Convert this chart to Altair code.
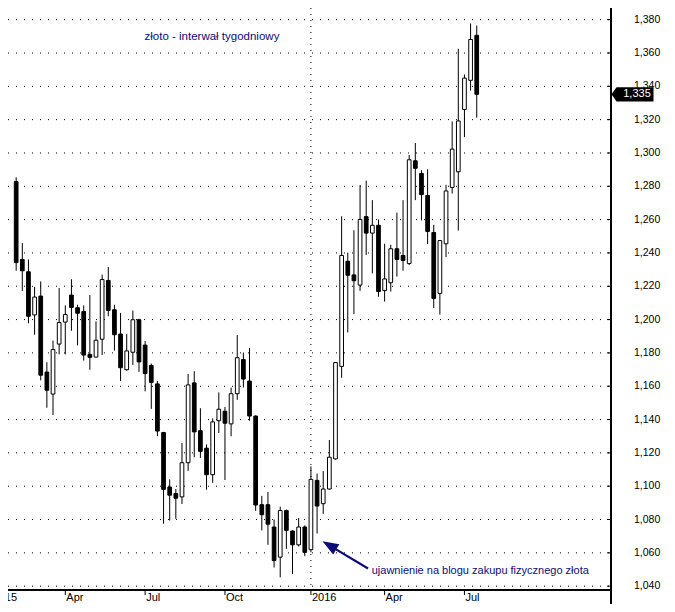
import altair as alt
import pandas as pd

# ---- weekly OHLC (gold, USD/oz) ----
opens = [1282.8, 1236.1, 1228.7, 1202.8, 1214.1, 1168.5, 1155.3, 1185.3, 1198.5, 1214.7,
         1207.1, 1204.8, 1179.1, 1177.5, 1188.2, 1223.5, 1205.9, 1191.3, 1169.9, 1180.4,
         1199.9, 1184.7, 1172.5, 1161.4, 1132.2, 1099.5, 1095.6, 1093.6, 1114.1, 1162.0,
         1133.3, 1122.8, 1106.9, 1139.3, 1145.0, 1137.4, 1155.5, 1176.0, 1163.1, 1142.1,
         1088.9, 1088.9, 1075.5, 1057.4, 1085.4, 1073.1, 1064.8, 1075.5, 1061.9, 1103.5,
         1089.5, 1098.3, 1116.4, 1171.9, 1235.0, 1226.8, 1220.7, 1261.8, 1251.9, 1256.6,
         1217.4, 1222.1, 1242.5, 1238.5, 1233.6, 1295.3, 1287.7, 1274.5, 1252.3, 1215.7,
         1245.5, 1279.3, 1288.7, 1326.1, 1343.6, 1370.6]
highs = [1285.4, 1245.9, 1236.1, 1219.6, 1222.9, 1174.4, 1187.4, 1219.0, 1208.5, 1224.2,
         1208.9, 1208.5, 1214.7, 1198.9, 1227.0, 1231.6, 1208.9, 1204.0, 1191.3, 1205.4,
         1200.5, 1187.1, 1173.6, 1163.1, 1132.6, 1104.1, 1098.3, 1125.9, 1167.4, 1169.0,
         1146.8, 1125.1, 1140.7, 1156.3, 1147.5, 1159.2, 1190.7, 1180.2, 1183.0, 1142.5,
         1094.2, 1096.5, 1080.0, 1087.7, 1086.0, 1073.5, 1080.9, 1076.5, 1111.9, 1107.6,
         1109.0, 1127.7, 1174.5, 1262.0, 1240.2, 1253.6, 1280.7, 1283.4, 1271.7, 1260.1,
         1245.5, 1244.9, 1264.2, 1271.7, 1298.8, 1306.0, 1289.7, 1290.2, 1256.9, 1247.4,
         1280.9, 1318.9, 1362.5, 1347.1, 1377.7, 1376.5]
lows = [1229.3, 1217.2, 1197.8, 1190.9, 1163.5, 1147.1, 1142.7, 1179.1, 1179.1, 1193.3,
        1184.5, 1175.4, 1169.9, 1177.3, 1178.7, 1202.0, 1181.4, 1163.1, 1169.3, 1172.8,
        1168.6, 1156.9, 1146.4, 1130.0, 1077.5, 1079.4, 1080.4, 1089.3, 1109.2, 1117.4,
        1117.0, 1097.9, 1102.0, 1131.9, 1103.7, 1130.0, 1151.8, 1159.2, 1139.3, 1085.2,
        1073.5, 1064.8, 1051.2, 1045.3, 1062.4, 1047.3, 1063.8, 1058.0, 1060.3, 1071.6,
        1083.3, 1098.0, 1116.0, 1165.1, 1192.3, 1203.2, 1217.2, 1238.8, 1227.7, 1213.7,
        1210.8, 1216.8, 1225.8, 1229.3, 1232.8, 1271.7, 1259.5, 1245.3, 1206.9, 1203.0,
        1237.5, 1275.6, 1253.4, 1309.5, 1337.4, 1321.2]
closes = [1234.2, 1229.3, 1202.0, 1213.5, 1166.6, 1157.6, 1182.0, 1198.2, 1203.0, 1207.3,
          1203.8, 1178.7, 1177.3, 1187.6, 1224.0, 1205.5, 1190.9, 1171.1, 1181.2, 1199.9,
          1174.6, 1167.6, 1162.3, 1133.1, 1098.1, 1094.6, 1092.8, 1114.1, 1160.8, 1132.6,
          1120.9, 1106.9, 1138.6, 1146.2, 1137.8, 1155.5, 1177.1, 1164.3, 1142.1, 1088.7,
          1082.9, 1077.2, 1055.4, 1085.4, 1073.5, 1064.8, 1075.5, 1060.3, 1104.1, 1088.1,
          1098.3, 1117.4, 1174.2, 1238.5, 1226.6, 1223.3, 1260.1, 1251.9, 1256.6, 1216.8,
          1224.4, 1242.5, 1236.1, 1235.5, 1295.9, 1290.8, 1275.0, 1252.9, 1212.7, 1247.4,
          1277.2, 1302.3, 1319.2, 1344.9, 1368.1, 1335.2]
bar_index = list(range(len(opens)))

# x-axis: bar index of the first week of each labelled period ("2015" lies off the left edge)
tick_idx = [-4, 8, 21, 34, 48, 60, 73]
tick_lab = ["2015", "Apr", "Jul", "Oct", "2016", "Apr", "Jul"]
year_line_idx = [48]
y_ticks = list(range(1040, 1381, 20))
y_tick_lab = [f"{v:,d}" for v in y_ticks]

title_text = "złoto - interwał tygodniowy"
note_text = "ujawnienie na blogu zakupu fizycznego złota"
# annotation anchors in data space (bar index, price)
title_anchor = (20.9, 1369.5)
note_anchor = (57.9, 1049.4)
arrow_tail = (57.3, 1050.6)
arrow_head = (51.0, 1064.5)

# ---- layout ----
W, H = 603, 582
FONT = "Liberation Sans"
NAVY = "#0c0c78"
BLACK = "#000000"

df = pd.DataFrame({"i": bar_index, "o": opens, "h": highs, "l": lows, "c": closes})
df["lo"] = df[["o", "c"]].min(axis=1)
df["hi"] = df[["o", "c"]].max(axis=1)
df["col"] = ["white" if c >= o else "black" for o, c in zip(opens, closes)]

xs = alt.Scale(domain=[-0.516, 96.05], nice=False, zero=False)
ys = alt.Scale(domain=[1037.7, 1387.0], nice=False, zero=False)


def X(field):
    return alt.X(field, scale=xs, axis=None)


def Y(field):
    return alt.Y(field, scale=ys, axis=None)


ydf = pd.DataFrame({"v": y_ticks, "t": y_tick_lab})
xdf = pd.DataFrame({"i": tick_idx, "t": tick_lab})

# --- hand-drawn axes ---
grid = alt.Chart(ydf).mark_rule(color=BLACK, strokeWidth=1, strokeDash=[1, 7]).encode(
    y=Y("v:Q"), x=alt.value(0), x2=alt.value(W))
inner_ticks = alt.Chart(ydf).mark_rule(color=BLACK, strokeWidth=1).encode(
    y=Y("v:Q"), x=alt.value(W - 4), x2=alt.value(W + 1))
y_labels = alt.Chart(ydf).mark_text(
    align="left", baseline="middle", font=FONT, fontSize=10.5, color=BLACK).encode(
    y=Y("v:Q"), x=alt.value(W + 23), text="t:N")
right_line = alt.Chart(ydf).mark_rule(color=BLACK, strokeWidth=1).encode(
    x=alt.value(W), y=alt.value(0), y2=alt.value(H + 14))
bottom_line = alt.Chart(ydf).mark_rule(color=BLACK, strokeWidth=1).encode(
    y=alt.value(H), x=alt.value(0), x2=alt.value(W))
x_ticks = alt.Chart(xdf).mark_rule(color=BLACK, strokeWidth=1).encode(
    x=X("i:Q"), y=alt.value(H), y2=alt.value(H + 5))
x_labels = alt.Chart(xdf).mark_text(
    align="left", baseline="top", dx=1, font=FONT, fontSize=11, color=BLACK).encode(
    x=X("i:Q"), y=alt.value(H + 2), text="t:N")

year_line = alt.Chart(pd.DataFrame({"i": year_line_idx})).mark_rule(
    color=BLACK, strokeWidth=1, strokeDash=[1, 5]).encode(x=X("i:Q"))

# --- candles ---
wicks = alt.Chart(df).mark_rule(color=BLACK, strokeWidth=1).encode(
    x=X("i:Q"), y=Y("l:Q"), y2="h:Q")
bodies = alt.Chart(df).mark_bar(size=3.7, stroke=BLACK, strokeWidth=1).encode(
    x=X("i:Q"), y=Y("lo:Q"), y2="hi:Q", fill=alt.Fill("col:N", scale=None))

# --- annotations ---
title = alt.Chart(pd.DataFrame({"i": [title_anchor[0]], "v": [title_anchor[1]], "t": [title_text]})).mark_text(
    align="left", baseline="middle", font=FONT, fontSize=11.5, color=NAVY).encode(
    x=X("i:Q"), y=Y("v:Q"), text="t:N")
arrow_line = alt.Chart(pd.DataFrame({"i": [arrow_tail[0], arrow_head[0]],
                                     "v": [arrow_tail[1], arrow_head[1]]})).mark_line(
    color=NAVY, strokeWidth=2.2).encode(x=X("i:Q"), y=Y("v:Q"))
arrow_tip = alt.Chart(pd.DataFrame({"i": [arrow_head[0]], "v": [arrow_head[1]]})).mark_point(
    shape="M0,-1L0.75,1L-0.75,1Z", size=256, angle=300.7, filled=True, opacity=1,
    color=NAVY, strokeWidth=0).encode(x=X("i:Q"), y=Y("v:Q"))
note = alt.Chart(pd.DataFrame({"i": [note_anchor[0]], "v": [note_anchor[1]], "t": [note_text]})).mark_text(
    align="left", baseline="middle", font=FONT, fontSize=11, color=NAVY).encode(
    x=X("i:Q"), y=Y("v:Q"), text="t:N")

last = pd.DataFrame({"v": [closes[-1]], "t": [f"{closes[-1]:,.0f}"]})
marker = alt.Chart(last).mark_point(
    shape="M-1,0L-0.76,-0.34L1,-0.34L1,0.34L-0.76,0.34Z", size=1764, filled=True,
    opacity=1, color=BLACK, strokeWidth=0).encode(x=alt.value(W + 21.5), y=Y("v:Q"))
marker_text = alt.Chart(last).mark_text(
    align="center", baseline="middle", font=FONT, fontSize=11, color="white").encode(
    x=alt.value(W + 26), y=Y("v:Q"), text="t:N")

chart = alt.layer(
    grid, year_line, inner_ticks, y_labels, right_line, bottom_line, x_ticks, x_labels,
    wicks, bodies, title, arrow_line, arrow_tip, note, marker, marker_text
).properties(
    width=W, height=H,
    background="white",
    autosize=alt.AutoSizeParams(type="none"),
    padding={"left": 0, "top": 0, "right": 56, "bottom": 14},
).configure_view(strokeWidth=0)

chart.save("out.html", embed_options={"renderer": "svg", "actions": False})
